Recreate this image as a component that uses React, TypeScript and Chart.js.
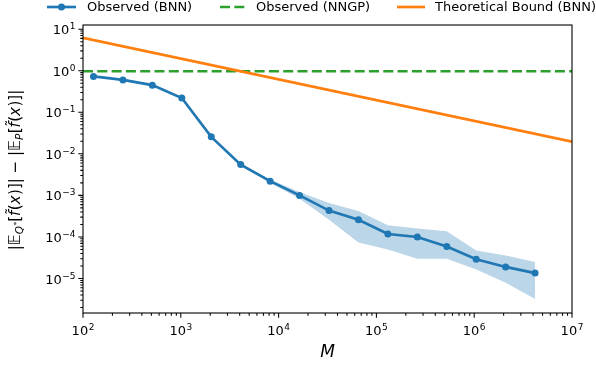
import React, { useEffect, useRef } from "react";
import { Chart, registerables } from "chart.js";

Chart.register(...registerables);

// ---------------- data ----------------
const M_VALUES = [128, 256, 512, 1024, 2048, 4096, 8192, 16384, 32768, 65536, 131072, 262144, 524288, 1048576, 2097152, 4194304];
const BNN_OBSERVED = [0.73, 0.6, 0.45, 0.22, 0.0256, 0.0055, 0.0022, 0.001, 0.00043, 0.00026, 0.000118, 0.0001, 0.000059, 0.000029, 0.000019, 0.0000135];
const BNN_UPPER = [0.75, 0.62, 0.465, 0.228, 0.0268, 0.0058, 0.0024, 0.0012, 0.00066, 0.00042, 0.00019, 0.00016, 0.000138, 0.000047, 0.000036, 0.000025];
const BNN_LOWER = [0.71, 0.58, 0.435, 0.212, 0.0245, 0.0052, 0.002, 0.00083, 0.00026, 0.000074, 0.00005, 0.00003, 0.00003, 0.0000165, 0.0000079, 0.0000032];
const NNGP_M = [100, 1e7];
const NNGP_OBSERVED = [0.97, 0.97];
const BOUND_M = [100, 1e7];
const BOUND_BNN = [6.2, 0.0196];
const X_DECADES = [2, 3, 4, 5, 6, 7];
const Y_DECADES = [-5, -4, -3, -2, -1, 0, 1];
const LEGEND_LABELS = ["Observed (BNN)", "Observed (NNGP)", "Theoretical Bound (BNN)"];

const X_MIN = 100;
const X_MAX = 1e7;
const Y_MIN = Math.pow(10, -5.83);
const Y_MAX = Math.pow(10, 1.1);

const BLUE = "#1f77b4";
const ORANGE = "#ff7f0e";
const GREEN = "#2ca02c";
const FONT = "'DejaVu Sans'";

const toPts = (xs: number[], ys: number[]) => xs.map((x, i) => ({ x, y: ys[i] }));

type Seg = { t: string; s?: number; dy?: number; it?: boolean; tilde?: boolean };

const Y_LABEL: Seg[] = [
  { t: "|" },
  { t: "𝔼" },
  { t: "Q", s: 0.7, dy: 0.22, it: true },
  { t: "*", s: 0.5, dy: -0.05 },
  { t: "[" },
  { t: "f", it: true, tilde: true },
  { t: "(" },
  { t: "x", it: true },
  { t: ")" },
  { t: "]" },
  { t: "|" },
  { t: " − " },
  { t: "|" },
  { t: "𝔼" },
  { t: "P", s: 0.7, dy: 0.22, it: true },
  { t: "[" },
  { t: "f", it: true, tilde: true },
  { t: "(" },
  { t: "x", it: true },
  { t: ")" },
  { t: "]" },
  { t: "|" },
];

function segFont(seg: Seg, size: number) {
  return `${seg.it ? "italic " : ""}${size * (seg.s ?? 1)}px ${FONT}`;
}

function measureSegs(ctx: CanvasRenderingContext2D, segs: Seg[], size: number) {
  let w = 0;
  for (const seg of segs) {
    ctx.font = segFont(seg, size);
    w += ctx.measureText(seg.t).width + (seg.it ? 0.03 * size : 0);
  }
  return w;
}

function drawSegs(ctx: CanvasRenderingContext2D, segs: Seg[], size: number, x: number, y: number) {
  ctx.textAlign = "left";
  ctx.textBaseline = "alphabetic";
  let cx = x;
  for (const seg of segs) {
    ctx.font = segFont(seg, size);
    const w = ctx.measureText(seg.t).width;
    const yy = y + (seg.dy ?? 0) * size;
    ctx.fillText(seg.t, cx, yy);
    if (seg.tilde) {
      ctx.save();
      ctx.font = `${size * 0.9}px ${FONT}`;
      ctx.textAlign = "center";
      ctx.fillText("˜", cx + w * 0.5 + size * 0.12, yy - size * 0.3);
      ctx.restore();
    }
    cx += w + (seg.it ? 0.03 * size : 0);
  }
}

function supStr(n: number) {
  return n < 0 ? "−" + Math.abs(n) : String(n);
}

const axesPlugin = {
  id: "mplAxes",
  afterDraw(chart: any) {
    const ctx: CanvasRenderingContext2D = chart.ctx;
    const area = chart.chartArea;
    const xs = chart.scales.x;
    const ys = chart.scales.y;
    ctx.save();
    ctx.fillStyle = "#000";
    ctx.strokeStyle = "#000";

    // frame
    ctx.lineWidth = 1.1;
    ctx.strokeRect(area.left, area.top, area.right - area.left, area.bottom - area.top);

    // ticks
    ctx.lineWidth = 1.05;
    const majorLen = 4.7;
    const minorLen = 2.7;
    ctx.beginPath();
    for (let d = 2; d <= 7; d++) {
      for (let k = 1; k <= 9; k++) {
        const v = k * Math.pow(10, d);
        if (v < X_MIN * 0.999 || v > X_MAX * 1.001) continue;
        const px = xs.getPixelForValue(v);
        const len = k === 1 ? majorLen : minorLen;
        ctx.moveTo(px, area.bottom);
        ctx.lineTo(px, area.bottom + len);
      }
    }
    for (let d = -6; d <= 1; d++) {
      for (let k = 1; k <= 9; k++) {
        const v = k * Math.pow(10, d);
        if (v < Y_MIN || v > Y_MAX) continue;
        const py = ys.getPixelForValue(v);
        const len = k === 1 ? majorLen : minorLen;
        ctx.moveTo(area.left, py);
        ctx.lineTo(area.left - len, py);
      }
    }
    ctx.stroke();

    // tick labels
    const base = 13;
    const sup = 9;
    ctx.textBaseline = "alphabetic";
    for (const d of X_DECADES) {
      const px = xs.getPixelForValue(Math.pow(10, d));
      ctx.font = `${base}px ${FONT}`;
      const w1 = ctx.measureText("10").width;
      ctx.font = `${sup}px ${FONT}`;
      const w2 = ctx.measureText(supStr(d)).width;
      const x0 = px - (w1 + w2 + 0.5) / 2;
      ctx.textAlign = "left";
      ctx.font = `${base}px ${FONT}`;
      ctx.fillText("10", x0, 335);
      ctx.font = `${sup}px ${FONT}`;
      ctx.fillText(supStr(d), x0 + w1 + 0.5, 330);
    }
    for (const d of Y_DECADES) {
      const py = ys.getPixelForValue(Math.pow(10, d));
      ctx.font = `${base}px ${FONT}`;
      const w1 = ctx.measureText("10").width;
      ctx.font = `${sup}px ${FONT}`;
      const w2 = ctx.measureText(supStr(d)).width;
      const right = area.left - 7.5;
      const x0 = right - (w1 + w2 + 0.5);
      ctx.textAlign = "left";
      ctx.font = `${base}px ${FONT}`;
      ctx.fillText("10", x0, py + 5);
      ctx.font = `${sup}px ${FONT}`;
      ctx.fillText(supStr(d), x0 + w1 + 0.5, py);
    }

    // x title
    ctx.font = `italic 17px ${FONT}`;
    ctx.textAlign = "center";
    ctx.fillText("M", (area.left + area.right) / 2, 357);

    // y title
    const ySize = 15;
    const wl = measureSegs(ctx, Y_LABEL, ySize);
    ctx.save();
    ctx.translate(20, (area.top + area.bottom) / 2 + 1);
    ctx.rotate(-Math.PI / 2);
    drawSegs(ctx, Y_LABEL, ySize, -wl / 2, 0);
    ctx.restore();

    // legend
    const ly = 7;
    ctx.lineWidth = 2.66;
    ctx.lineCap = "butt";
    ctx.strokeStyle = BLUE;
    ctx.beginPath();
    ctx.moveTo(47, ly);
    ctx.lineTo(76, ly);
    ctx.stroke();
    ctx.fillStyle = BLUE;
    ctx.beginPath();
    ctx.arc(61.5, ly, 3.5, 0, Math.PI * 2);
    ctx.fill();
    ctx.strokeStyle = GREEN;
    ctx.setLineDash([10, 4.3]);
    ctx.beginPath();
    ctx.moveTo(220, ly);
    ctx.lineTo(247, ly);
    ctx.stroke();
    ctx.setLineDash([]);
    ctx.strokeStyle = ORANGE;
    ctx.beginPath();
    ctx.moveTo(397, ly);
    ctx.lineTo(425, ly);
    ctx.stroke();
    ctx.fillStyle = "#000";
    ctx.font = `13px ${FONT}`;
    ctx.textAlign = "left";
    ctx.textBaseline = "middle";
    ctx.fillText(LEGEND_LABELS[0], 87, ly + 0.5);
    ctx.fillText(LEGEND_LABELS[1], 256, ly + 0.5);
    ctx.fillText(LEGEND_LABELS[2], 435, ly + 0.5);
    ctx.restore();
  },
};

export default function App() {
  const ref = useRef<HTMLCanvasElement>(null);
  useEffect(() => {
    document.body.style.margin = "0";
    const canvas = ref.current!;
    const chart = new Chart(canvas, {
      type: "line",
      data: {
        datasets: [
          {
            label: "lower",
            data: toPts(M_VALUES, BNN_LOWER),
            borderWidth: 0,
            borderColor: "rgba(0,0,0,0)",
            pointRadius: 0,
            fill: false,
            order: 4,
          },
          {
            label: "upper",
            data: toPts(M_VALUES, BNN_UPPER),
            borderWidth: 0,
            borderColor: "rgba(0,0,0,0)",
            backgroundColor: "rgba(31,119,180,0.3)",
            pointRadius: 0,
            fill: "-1",
            order: 3,
          },
          {
            label: LEGEND_LABELS[1],
            data: toPts(NNGP_M, NNGP_OBSERVED),
            borderColor: GREEN,
            borderWidth: 2.66,
            borderDash: [10, 4.3],
            pointRadius: 0,
            fill: false,
            order: 2,
          },
          {
            label: LEGEND_LABELS[2],
            data: toPts(BOUND_M, BOUND_BNN),
            borderColor: ORANGE,
            borderWidth: 2.66,
            pointRadius: 0,
            fill: false,
            order: 1,
          },
          {
            label: LEGEND_LABELS[0],
            data: toPts(M_VALUES, BNN_OBSERVED),
            borderColor: BLUE,
            borderWidth: 2.66,
            pointRadius: 3.5,
            pointBackgroundColor: BLUE,
            pointBorderWidth: 0,
            fill: false,
            order: 0,
          },
        ],
      },
      options: {
        responsive: false,
        animation: false,
        devicePixelRatio: 1,
        layout: { padding: { left: 83, right: 24, top: 25, bottom: 53 } },
        plugins: { legend: { display: false }, tooltip: { enabled: false }, title: { display: false } },
        scales: {
          x: {
            type: "logarithmic",
            min: X_MIN,
            max: X_MAX,
            display: false,
            afterFit: (s: any) => {
              s.height = 0;
            },
          },
          y: {
            type: "logarithmic",
            min: Y_MIN,
            max: Y_MAX,
            display: false,
            afterFit: (s: any) => {
              s.width = 0;
            },
          },
        },
      } as any,
      plugins: [axesPlugin],
    });
    return () => chart.destroy();
  }, []);
  return <canvas ref={ref} width={596} height={366} style={{ display: "block" }} />;
}
